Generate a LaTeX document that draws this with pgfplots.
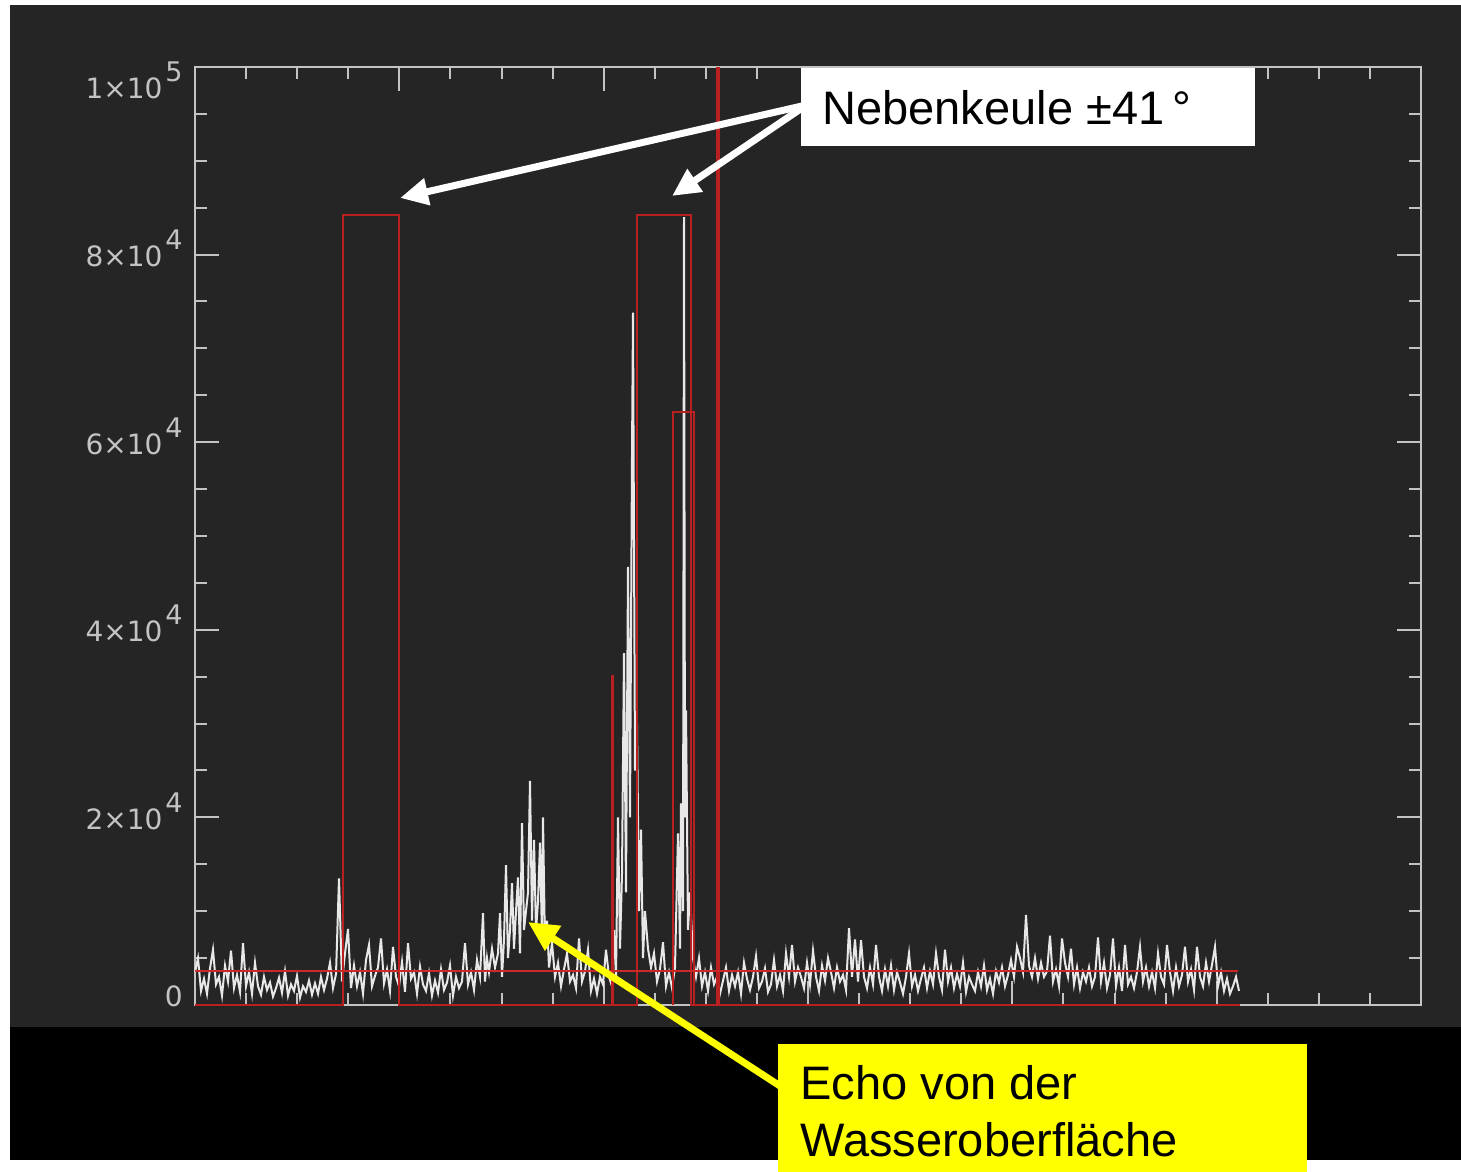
\documentclass[border=0pt]{standalone}
\usepackage{pgfplots}
\pgfplotsset{compat=1.18}
\usepackage{fontspec}
\setmainfont{Liberation Sans}
\newfontfamily\tickfont{DejaVu Sans}
\usetikzlibrary{arrows.meta}
\definecolor{bg}{RGB}{37,37,37}
\definecolor{axgray}{RGB}{195,195,195}
\definecolor{sig}{RGB}{232,232,232}
\definecolor{redl}{RGB}{185,32,32}
\definecolor{redt}{RGB}{205,40,40}
\definecolor{yel}{RGB}{255,255,0}
\newcommand\ex[1]{\kern1.5pt\raisebox{8.5pt}{\fontsize{13.5}{13.5}\selectfont #1}}

\begin{document}
\begin{tikzpicture}
\fill[white] (0pt,0pt) rectangle (730.5pt,586pt);
\fill[bg] (5pt,72.5pt) rectangle (730.5pt,583.5pt);
\fill[black] (5pt,6pt) rectangle (730.5pt,72.5pt);
\begin{axis}[
  at={(97.5pt,83.5pt)}, anchor=south west,
  scale only axis, width=613pt, height=469pt,
  xmin=0, xmax=1226, ymin=0, ymax=100,
  clip=false,
  axis line style={axgray, line width=1pt},
  xtick={0,204.333,408.667,613,817.333,1021.667,1226},
  xticklabels={},
  ytick={0,20,40,60,80,100},
  yticklabels={\raisebox{5.5pt}{0},2×10\ex{4},4×10\ex{4},6×10\ex{4},8×10\ex{4},\raisebox{-9.5pt}{1×10\ex{5}}},
  minor x tick num=3, minor y tick num=3,
  tick align=inside,
  major tick length=12pt, minor tick length=6pt,
  tick style={axgray, line width=1pt},
  yticklabel style={font=\tickfont\fontsize{14}{14}\selectfont, text=axgray, anchor=base east, inner sep=0pt, xshift=-6pt, yshift=-6.1pt},
]
% echo signal (white)
\addplot[sig, line width=1pt] coordinates {
(0,3.5)(3,5.0)(6,1.5)(9,2.8)(12,1.2)(15,3.9)(18,5.9)(21,2.2)(24,3.0)(27,1.0)(30,4.2)(33,2.5)(36,5.8)(39,1.8)(42,3.2)(45,1.4)(48,6.6)(51,2.0)(54,3.5)(57,1.2)
(60,4.5)(63,2.0)(66,1.1)(69,3.0)(72,1.6)(75,2.4)(78,0.9)(81,1.8)(84,2.9)(87,1.3)(90,3.6)(93,1.0)(96,2.2)(99,1.5)(102,3.1)(105,0.8)(108,2.0)(111,1.4)(114,2.6)(117,1.1)
(120,2.3)(123,1.2)(126,3.0)(129,1.6)(132,2.8)(135,4.5)(138,1.8)(141,3.3)(144,13.5)(147,2.5)(150,5.5)(153,8.1)(156,1.8)(159,4.2)(162,2.0)(165,3.5)(168,1.2)(171,4.8)(174,6.4)(177,2.0)
(180,3.1)(183,4.0)(186,7.1)(189,2.3)(192,3.8)(195,1.5)(198,6.2)(201,3.0)(204,2.0)(207,4.6)(210,1.4)(213,6.6)(216,2.8)(219,3.5)(222,1.2)(225,4.1)(228,2.2)(231,1.5)(234,3.4)(237,1.0)
(240,2.6)(243,1.3)(246,3.8)(249,1.6)(252,2.4)(255,4.2)(258,1.0)(261,3.0)(264,1.8)(267,2.5)(270,6.6)(273,2.2)(276,3.5)(279,1.6)(282,4.8)
(285,3.0)(288,9.8)(290,2.5)(292,5.0)(294,3.5)(297,6.0)(300,4.0)(303,5.5)(305,9.8)(307,3.0)(309,7.0)(311,14.9)(313,5.0)(315,8.0)(317,13.0)(319,6.0)(321,10.0)(323,13.6)(325,5.5)(327,19.4)(329,8.0)(331,10.0)(333,12.0)(335,23.9)(337,9.0)(339,17.6)(341,8.0)(343,11.0)(345,17.3)(347,7.0)(348,20.0)(350,6.0)(352,9.0)(354,4.0)(357,6.6)
(360,3.0)(363,4.5)(366,2.0)(369,3.8)(372,5.5)(375,2.5)(378,3.2)(381,1.8)(384,7.1)(387,2.5)(390,3.6)(393,5.9)(396,1.5)(399,2.8)(402,1.2)(405,3.0)(408,2.2)(411,5.9)(414,3.0)(417,2.0)
(419,8.0)(421,3.0)(423,20.0)(425,6.0)(427,14.0)(429,37.5)(431,12.0)(433,46.7)(435,20.0)(437,58.6)(438,73.8)(440,25.0)(442,30.0)(444,10.0)(446,18.7)(448,5.0)(450,10.0)(453,6.0)(456,4.0)(459,5.5)(462,2.5)(465,3.8)(468,6.7)(471,2.0)(474,3.5)(477,1.8)
(480,4.0)(483,18.3)(485,6.0)(486,21.5)(488,10.0)(489,84.0)(490,20.0)(491,31.4)(493,8.0)(495,12.0)(498,5.0)(501,3.0)(504,5.0)(507,2.0)(510,3.5)(513,1.5)(516,4.0)(519,2.2)(522,3.0)(525,1.2)(528,2.6)(531,4.0)(534,1.5)(537,3.2)
(540,2.0)(543,3.5)(546,1.2)(549,4.5)(552,2.8)(555,1.6)(558,3.0)(561,5.2)(564,1.8)(567,2.5)(570,3.9)(573,1.4)(576,2.2)(579,4.8)(582,2.0)(585,3.2)(588,1.5)(591,5.5)(594,3.0)(597,6.4)
(600,2.5)(603,4.0)(606,3.0)(609,1.8)(612,4.5)(615,2.2)(618,5.8)(621,3.0)(624,1.5)(627,4.2)(630,2.6)(633,5.0)(636,3.5)(639,1.8)(642,4.0)(645,2.5)(648,3.2)(651,1.6)(654,8.2)(657,3.0)
(660,7.0)(663,2.5)(666,6.9)(669,3.0)(672,1.8)(675,4.0)(678,2.2)(681,6.4)(684,3.0)(687,1.5)(690,3.8)(693,2.0)(696,4.2)(699,1.6)(702,3.5)(705,2.4)(708,1.2)(711,3.0)(714,5.5)(717,2.0)
(720,3.2)(723,1.5)(726,2.8)(729,4.0)(732,1.8)(735,3.6)(738,2.2)(741,5.5)(744,3.0)(747,1.6)(750,5.9)(753,2.5)(756,4.0)(759,1.8)(762,3.3)(765,2.0)(768,4.5)(771,1.4)(774,3.0)(777,2.2)
(780,1.5)(783,3.5)(786,2.0)(789,4.2)(792,1.6)(795,2.8)(798,1.2)(801,3.6)(804,2.4)(807,4.0)(810,2.0)(813,3.2)(816,4.8)(819,3.0)(822,6.2)(825,5.0)(828,3.5)(831,9.6)(834,4.2)(837,3.0)
(840,5.0)(843,2.8)(846,4.5)(849,3.0)(852,3.6)(855,7.4)(858,2.5)(861,3.8)(864,2.0)(867,7.1)(870,4.5)(873,3.0)(876,6.0)(879,2.2)(882,4.0)(885,1.8)(888,3.5)(891,2.5)(894,4.0)(897,2.0)
(900,3.0)(903,7.2)(906,2.5)(909,4.5)(912,1.8)(915,3.2)(918,7.1)(921,2.0)(924,4.0)(927,1.5)(930,6.4)(933,2.2)(936,3.0)(939,1.8)(942,3.5)(945,6.2)(948,2.5)(951,4.0)(954,2.0)(957,3.5)
(960,1.8)(963,5.5)(966,3.0)(969,2.2)(972,6.4)(975,3.5)(978,1.5)(981,4.0)(984,2.0)(987,3.2)(990,6.2)(993,2.5)(996,3.8)(999,1.6)(1002,6.2)(1005,3.0)(1008,2.0)(1011,4.5)(1014,2.5)(1017,4.3)
(1020,6.2)(1023,2.0)(1026,3.5)(1029,1.5)(1032,2.8)(1035,1.2)(1038,2.0)(1041,3.0)(1044,1.5)
};
% red beam windows
\addplot[redl, line width=1pt] coordinates {(0,0) (148,0) (148,84.2) (204,84.2) (204,0) (442,0) (442,84.2) (496,84.2) (496,0) (1045,0)};
\addplot[redl, line width=1pt] coordinates {(478,0) (478,63.2) (499,63.2) (499,0)};
\addplot[redl, line width=1.5pt] coordinates {(417,0) (417,35.2)};
\addplot[redl, line width=1.6pt] coordinates {(523,0) (523,100)};
\addplot[redt, line width=0.8pt] coordinates {(0,3.6) (1043,3.6)};
\end{axis}
% annotations
\draw[white, line width=3.5pt, -{Triangle[length=14pt,width=13pt]}] (401pt,533pt) -- (200pt,487pt);
\draw[white, line width=3.5pt, -{Triangle[length=14pt,width=13pt]}] (401pt,532pt) -- (336pt,488pt);
\fill[white] (400.5pt,513pt) rectangle (627.5pt,552pt);
\node[anchor=base west, inner sep=0pt, font=\fontsize{23.5}{28}\selectfont] at (411pt,523.5pt) {Nebenkeule ±41\kern4pt°};
\draw[yel, line width=3.5pt, -{Triangle[length=15pt,width=14pt]}] (400pt,36.5pt) -- (264pt,125pt);
\fill[yel] (389pt,0pt) rectangle (653.5pt,64pt);
\node[anchor=base west, inner sep=0pt, font=\fontsize{23.5}{28}\selectfont] at (400pt,36pt) {Echo von der};
\node[anchor=base west, inner sep=0pt, font=\fontsize{23.5}{28}\selectfont] at (400pt,7.5pt) {Wasseroberfläche};
\end{tikzpicture}
\end{document}
